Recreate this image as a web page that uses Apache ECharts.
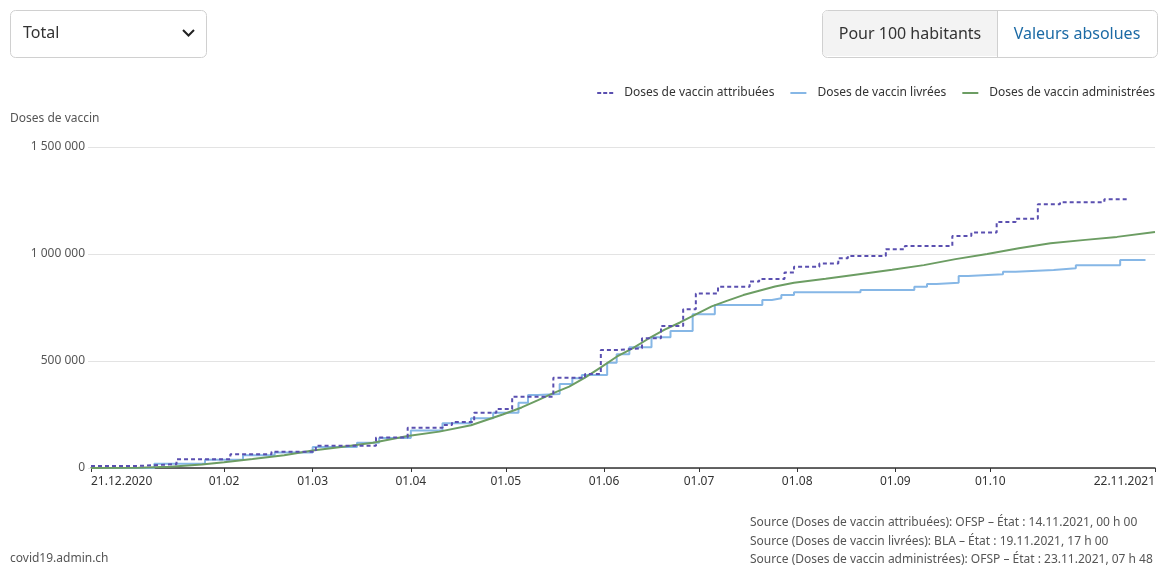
<!DOCTYPE html>
<html>
<head>
<meta charset="utf-8">
<script src="https://cdn.jsdelivr.net/npm/echarts@6/dist/echarts.min.js"></script>
<style>
html,body{margin:0;padding:0;background:#fff;}
#chart{width:1158px;height:565px;}
</style>
</head>
<body>
<div id="chart"></div>
<script>
const seriesNames = ['Doses de vaccin attribuées', 'Doses de vaccin livrées', 'Doses de vaccin administrées'];
const seriesColors = ['#5a4fb0', '#86b7e6', '#6c9d63'];

const attribueesDates = ['2020-12-21','2021-01-04','2021-01-17','2021-02-03','2021-02-16','2021-03-02','2021-03-21','2021-03-31','2021-04-11','2021-04-14','2021-04-21','2021-04-28','2021-05-03','2021-05-16','2021-05-26','2021-05-31','2021-06-05','2021-06-13','2021-06-19','2021-06-26','2021-06-30','2021-07-07','2021-07-17','2021-07-20','2021-07-28','2021-07-31','2021-08-08','2021-08-14','2021-08-17','2021-08-29','2021-09-04','2021-09-19','2021-09-25','2021-10-03','2021-10-09','2021-10-16','2021-10-23','2021-11-06','2021-11-14'];
const attribueesValues = [9000,18000,41000,64000,76000,104000,143000,188000,201000,215000,258000,276000,333000,422000,439000,551000,559000,606000,664000,742000,816000,847000,871000,883000,914000,941000,956000,980000,991000,1022000,1037000,1084000,1100000,1150000,1165000,1232000,1242000,1256000,1256000];

const livreesDates = ['2020-12-21','2021-01-10','2021-01-26','2021-02-07','2021-02-17','2021-03-01','2021-03-15','2021-03-22','2021-04-01','2021-04-11','2021-04-20','2021-04-27','2021-05-05','2021-05-08','2021-05-11','2021-05-18','2021-05-22','2021-05-25','2021-06-02','2021-06-05','2021-06-09','2021-06-16','2021-06-22','2021-06-29','2021-07-06','2021-07-21','2021-07-24','2021-07-27','2021-07-31','2021-08-21','2021-09-07','2021-09-11','2021-09-14','2021-09-21','2021-09-24','2021-10-05','2021-10-09','2021-10-21','2021-10-28','2021-11-11','2021-11-19'];
const livreesValues = [0,20000,38000,60000,72000,98000,118000,140000,175000,209000,233000,258000,305000,341000,346000,393000,419000,435000,492000,531000,564000,611000,640000,718000,762000,785000,793000,808000,821000,832000,847000,860000,866000,897000,905000,917000,925000,933000,947000,972000,972000];

const administreesDates = ['2020-12-21','2021-01-05','2021-01-15','2021-01-25','2021-02-01','2021-02-10','2021-02-20','2021-03-01','2021-03-10','2021-03-20','2021-03-31','2021-04-10','2021-04-20','2021-04-30','2021-05-06','2021-05-11','2021-05-16','2021-05-21','2021-05-26','2021-05-31','2021-06-05','2021-06-10','2021-06-15','2021-06-20','2021-06-25','2021-06-30','2021-07-05','2021-07-10','2021-07-15','2021-07-20','2021-07-25','2021-07-31','2021-08-10','2021-08-20','2021-08-31','2021-09-10','2021-09-20','2021-09-30','2021-10-10','2021-10-20','2021-10-31','2021-11-10','2021-11-22'];
const administreesValues = [0,1000,6000,16000,27000,42000,60000,82000,98000,118000,150000,170000,200000,250000,283000,316000,350000,380000,422000,470000,520000,559000,604000,645000,680000,718000,755000,782000,808000,828000,848000,866000,884000,904000,926000,948000,976000,1000000,1027000,1050000,1066000,1080000,1103000];

const tickDates = ['2020-12-21','2021-02-01','2021-03-01','2021-04-01','2021-05-01','2021-06-01','2021-07-01','2021-08-01','2021-09-01','2021-10-01','2021-11-22'];
const tickLabels = ['21.12.2020','01.02','01.03','01.04','01.05','01.06','01.07','01.08','01.09','01.10','22.11.2021'];

const yTicks = [0, 500000, 1000000, 1500000];
const yTickLabels = ['0', '500 000', '1 000 000', '1 500 000'];

const sourceLines = [
  'Source (Doses de vaccin attribuées): OFSP – État : 14.11.2021, 00 h 00',
  'Source (Doses de vaccin livrées): BLA – État : 19.11.2021, 17 h 00',
  'Source (Doses de vaccin administrées): OFSP – État : 23.11.2021, 07 h 48'
];

const FONT = '"Noto Sans", sans-serif';
const ts = s => { const p = s.split('-').map(Number); return Date.UTC(p[0], p[1] - 1, p[2]); };
const tickTs = tickDates.map(ts);
const pairs = (d, v) => d.map((x, i) => [ts(x), v[i]]);

const dashedIcon = 'path://M0,0h4v2h-4z M6,0h4v2h-4z M12,0h4v2h-4z';
const solidIcon = 'path://M0,0h16v2h-16z';

const chart = echarts.init(document.getElementById('chart'), null, {renderer: 'canvas'});

const option = {
  animation: false,
  textStyle: {fontFamily: FONT},
  grid: {left: 91, right: 2, top: 147, bottom: 97, containLabel: false},
  legend: {
    right: -2, top: 82,
    itemWidth: 16, itemHeight: 2, itemGap: 16,
    textStyle: {fontFamily: FONT, fontSize: 12, color: '#333', padding: [0, 0, 0, 6]},
    data: [
      {name: seriesNames[0], icon: dashedIcon},
      {name: seriesNames[1], icon: solidIcon},
      {name: seriesNames[2], icon: solidIcon}
    ]
  },
  xAxis: {
    type: 'value',
    min: tickTs[0], max: tickTs[tickTs.length - 1],
    axisLine: {lineStyle: {color: '#333', width: 1.5}},
    axisTick: {show: true, length: 4, lineStyle: {color: '#333'}, customValues: tickTs},
    splitLine: {show: false},
    axisLabel: {
      customValues: tickTs,
      color: '#333', fontSize: 12, fontFamily: FONT, margin: 8,
      alignMinLabel: 'left', alignMaxLabel: 'right',
      formatter: v => { const i = tickTs.indexOf(v); return i >= 0 ? tickLabels[i] : ''; }
    }
  },
  yAxis: {
    type: 'value', min: 0, max: 1500000, interval: 500000,
    axisLine: {show: false},
    axisTick: {show: true, length: 3, lineStyle: {color: '#e3e3e3'}},
    splitLine: {lineStyle: {color: '#e3e3e3', width: 1}},
    axisLabel: {
      color: '#555', fontSize: 12, fontFamily: FONT, margin: 6,
      formatter: v => { const i = yTicks.indexOf(v); return i >= 0 ? yTickLabels[i] : ''; }
    }
  },
  series: [
    {name: seriesNames[0], type: 'line', step: 'end', showSymbol: false, symbol: 'none',
     color: seriesColors[0], lineStyle: {width: 2, type: [4, 3], color: seriesColors[0]},
     data: pairs(attribueesDates, attribueesValues), z: 3},
    {name: seriesNames[1], type: 'line', step: 'end', showSymbol: false, symbol: 'none',
     color: seriesColors[1], lineStyle: {width: 2, color: seriesColors[1]},
     data: pairs(livreesDates, livreesValues), z: 2},
    {name: seriesNames[2], type: 'line', showSymbol: false, symbol: 'none',
     color: seriesColors[2], lineStyle: {width: 2, color: seriesColors[2]},
     data: pairs(administreesDates, administreesValues), z: 2}
  ],
  graphic: [
    {type: 'rect', left: 10, top: 10, shape: {width: 196, height: 47, r: 5},
     style: {fill: '#fff', stroke: '#d0d0d0', lineWidth: 1}},
    {type: 'text', left: 23, top: 25, style: {text: 'Total', fontSize: 16, fontFamily: FONT, fill: '#333'}},
    {type: 'polyline', shape: {points: [[183, 30], [188.5, 35.5], [194, 30]]},
     style: {stroke: '#222', lineWidth: 2, fill: null}},
    {type: 'rect', left: 822, top: 10, shape: {width: 335, height: 47, r: 5},
     style: {fill: '#fff', stroke: '#d0d0d0', lineWidth: 1}},
    {type: 'rect', left: 823, top: 11, shape: {width: 174, height: 45, r: [4, 0, 0, 4]},
     style: {fill: '#f3f3f3'}},
    {type: 'line', shape: {x1: 997.5, y1: 10, x2: 997.5, y2: 57}, style: {stroke: '#d0d0d0', lineWidth: 1}},
    {type: 'text', x: 910, y: 34, style: {text: 'Pour 100 habitants', fontSize: 16, fontFamily: FONT, fill: '#333', align: 'center', verticalAlign: 'middle'}},
    {type: 'text', x: 1077, y: 34, style: {text: 'Valeurs absolues', fontSize: 16, fontFamily: FONT, fill: '#1b6aa5', align: 'center', verticalAlign: 'middle'}},
    {type: 'text', left: 10, top: 113, style: {text: 'Doses de vaccin', fontSize: 12, fontFamily: FONT, fill: '#555'}},
    {type: 'text', left: 750, top: 517, style: {text: sourceLines[0], fontSize: 12, fontFamily: FONT, fill: '#555'}},
    {type: 'text', left: 750, top: 536, style: {text: sourceLines[1], fontSize: 12, fontFamily: FONT, fill: '#555'}},
    {type: 'text', left: 750, top: 554, style: {text: sourceLines[2], fontSize: 12, fontFamily: FONT, fill: '#555'}},
    {type: 'text', left: 10, top: 553, style: {text: 'covid19.admin.ch', fontSize: 12, fontFamily: FONT, fill: '#555'}}
  ]
};
chart.setOption(option);
</script>
</body>
</html>
